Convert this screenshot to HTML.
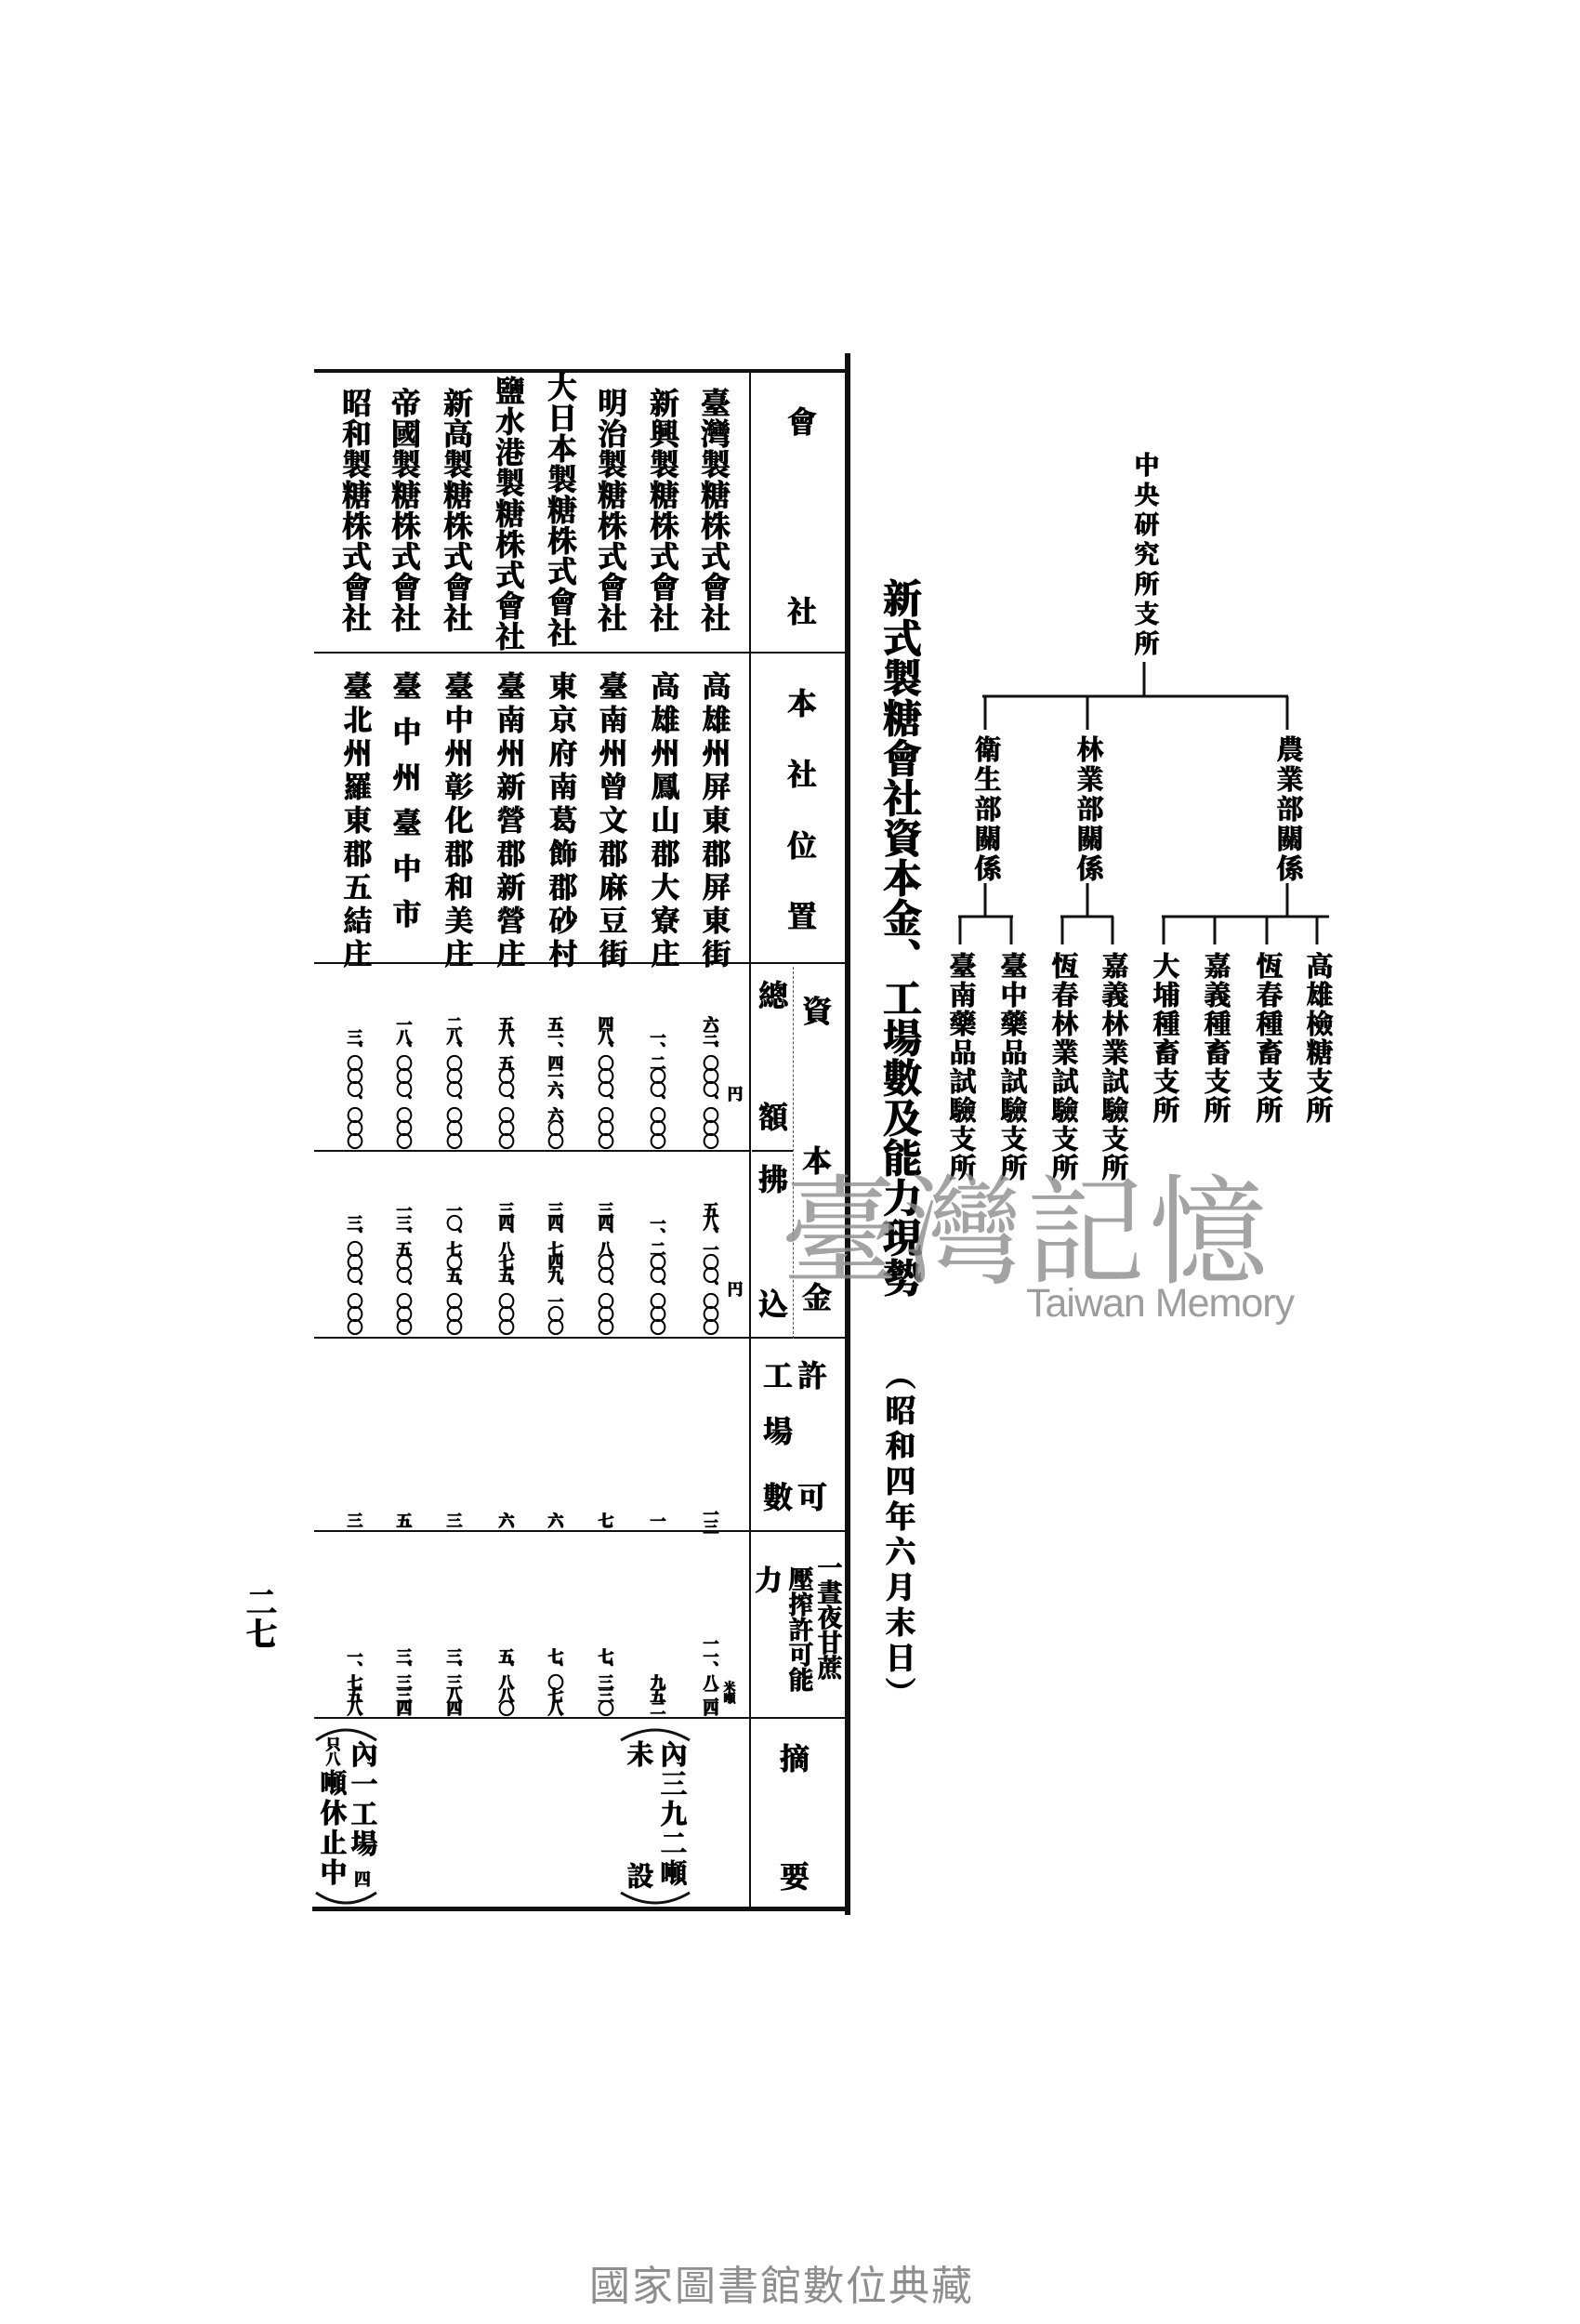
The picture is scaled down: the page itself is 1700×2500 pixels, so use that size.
<!DOCTYPE html>
<html><head><meta charset="utf-8">
<style>
html,body{margin:0;padding:0;background:#fff;}
body{width:1700px;height:2500px;position:relative;overflow:hidden;}
.v{position:absolute;writing-mode:vertical-rl;text-orientation:upright;white-space:nowrap;
font-family:"Liberation Serif","Noto Serif CJK SC","Noto Serif CJK TC",serif;font-weight:700;color:#000;transform:translateX(-50%);line-height:1;-webkit-text-stroke:0.9px #000;}
.b{position:absolute;transform:translate(-50%,-100%);}
.c{position:absolute;transform:translate(-50%,-50%);}
.h{position:absolute;background:#111;}
.co{font-size:32px;letter-spacing:1px;}
.lo{font-size:31px;letter-spacing:5px;}
.num{font-size:17px;letter-spacing:-3px;font-weight:700;-webkit-text-stroke:1.2px #000;}
.hd{font-size:32px;}
.tr{font-size:29px;letter-spacing:2px;}
</style></head><body>

<!-- table lines -->
<div class="h" style="left:338px;top:397px;width:574px;height:4px"></div>
<div class="h" style="left:338px;top:701px;width:574px;height:2px"></div>
<div class="h" style="left:338px;top:1035px;width:574px;height:2px"></div>
<div class="h" style="left:338px;top:1237px;width:469px;height:2px"></div>
<div class="h" style="left:809px;top:1237px;width:44px;height:2px"></div>
<div class="h" style="left:338px;top:1438px;width:574px;height:2px"></div>
<div class="h" style="left:338px;top:1646px;width:574px;height:2px"></div>
<div class="h" style="left:338px;top:1847px;width:574px;height:2px"></div>
<div class="h" style="left:336px;top:2051px;width:576px;height:5px"></div>
<div class="h" style="left:806px;top:399px;width:2px;height:1655px"></div>
<div class="h" style="left:909px;top:380px;width:6px;height:1680px"></div>
<div style="position:absolute;left:853px;top:1040px;height:400px;border-left:1px dashed #555"></div>

<!-- header -->
<div class="v hd" style="left:861px;top:437px">會</div>
<div class="v hd" style="left:861px;top:641px">社</div>
<div class="v hd" style="left:861px;top:740px">本</div>
<div class="v hd" style="left:861px;top:816px">社</div>
<div class="v hd" style="left:861px;top:893px">位</div>
<div class="v hd" style="left:861px;top:969px">置</div>
<div class="v hd" style="left:877px;top:1071px">資</div>
<div class="v hd" style="left:877px;top:1232px">本</div>
<div class="v hd" style="left:877px;top:1379px">金</div>
<div class="v hd" style="left:830px;top:1054px">總</div>
<div class="v hd" style="left:830px;top:1185px">額</div>
<div class="v hd" style="left:830px;top:1252px">拂</div>
<div class="v hd" style="left:830px;top:1386px">込</div>
<div class="v hd" style="left:872px;top:1463px">許</div>
<div class="v hd" style="left:835px;top:1463px">工</div>
<div class="v hd" style="left:835px;top:1523px">場</div>
<div class="v hd" style="left:835px;top:1594px">數</div>
<div class="v hd" style="left:872px;top:1594px">可</div>
<div class="v" style="left:890px;top:1672px;font-size:27px">一晝夜甘蔗</div>
<div class="v" style="left:859px;top:1685px;font-size:27px">壓搾許可能</div>
<div class="v" style="left:823px;top:1684px;font-size:30px">力</div>
<div class="v hd" style="left:853px;top:1875px">摘</div>
<div class="v hd" style="left:853px;top:2002px">要</div>

<!-- companies -->
<div class="v co" style="left:768px;top:417px">臺灣製糖株式會社</div>
<div class="v co" style="left:713px;top:417px">新興製糖株式會社</div>
<div class="v co" style="left:657px;top:417px">明治製糖株式會社</div>
<div class="v co" style="left:603px;top:400px">大日本製糖株式會社</div>
<div class="v co" style="left:547px;top:404px">鹽水港製糖株式會社</div>
<div class="v co" style="left:491px;top:417px">新高製糖株式會社</div>
<div class="v co" style="left:435px;top:417px">帝國製糖株式會社</div>
<div class="v co" style="left:382px;top:417px">昭和製糖株式會社</div>

<!-- locations -->
<div class="v lo" style="left:768px;top:722px">高雄州屏東郡屏東街</div>
<div class="v lo" style="left:713px;top:722px">高雄州鳳山郡大寮庄</div>
<div class="v lo" style="left:657px;top:722px">臺南州曾文郡麻豆街</div>
<div class="v lo" style="left:603px;top:722px">東京府南葛飾郡砂村</div>
<div class="v lo" style="left:547px;top:722px">臺南州新營郡新營庄</div>
<div class="v lo" style="left:491px;top:722px">臺中州彰化郡和美庄</div>
<div class="v lo" style="left:435px;top:722px;letter-spacing:18px">臺中州臺中市</div>
<div class="v lo" style="left:382px;top:722px">臺北州羅東郡五結庄</div>

<!-- capital total -->
<div class="v" style="left:789px;top:1168px;font-size:17px">円</div>
<div class="v num b" style="left:763px;top:1233px">六三、〇〇〇、〇〇〇</div>
<div class="v num b" style="left:706px;top:1233px">一、二〇〇、〇〇〇</div>
<div class="v num b" style="left:650px;top:1233px">四八、〇〇〇、〇〇〇</div>
<div class="v num b" style="left:596px;top:1233px">五一、四一六、六〇〇</div>
<div class="v num b" style="left:543px;top:1233px">五八、五〇〇、〇〇〇</div>
<div class="v num b" style="left:487px;top:1233px">二八、〇〇〇、〇〇〇</div>
<div class="v num b" style="left:433px;top:1233px">一八、〇〇〇、〇〇〇</div>
<div class="v num b" style="left:380px;top:1233px">三、〇〇〇、〇〇〇</div>
<!-- paid -->
<div class="v" style="left:789px;top:1378px;font-size:17px">円</div>
<div class="v num b" style="left:763px;top:1433px">五八、一〇〇、〇〇〇</div>
<div class="v num b" style="left:706px;top:1433px">一、二〇〇、〇〇〇</div>
<div class="v num b" style="left:650px;top:1433px">三四、八〇〇、〇〇〇</div>
<div class="v num b" style="left:596px;top:1433px">三四、七四九、一〇〇</div>
<div class="v num b" style="left:543px;top:1433px">三四、八七五、〇〇〇</div>
<div class="v num b" style="left:487px;top:1433px">一〇、七〇五、〇〇〇</div>
<div class="v num b" style="left:433px;top:1433px">一三、五〇〇、〇〇〇</div>
<div class="v num b" style="left:380px;top:1433px">三、〇〇〇、〇〇〇</div>
<!-- factories -->
<div class="v num c" style="left:763px;top:1634px">一三</div>
<div class="v num c" style="left:706px;top:1634px">一</div>
<div class="v num c" style="left:650px;top:1634px">七</div>
<div class="v num c" style="left:596px;top:1634px">六</div>
<div class="v num c" style="left:543px;top:1634px">六</div>
<div class="v num c" style="left:487px;top:1634px">三</div>
<div class="v num c" style="left:433px;top:1634px">五</div>
<div class="v num c" style="left:380px;top:1634px">三</div>
<!-- capacity -->
<div class="v" style="left:784px;top:1808px;font-size:13px;letter-spacing:-1px">米噸</div>
<div class="v num b" style="left:763px;top:1843px">一一、八二四</div>
<div class="v num b" style="left:706px;top:1843px">九五二</div>
<div class="v num b" style="left:650px;top:1843px">七、三三〇</div>
<div class="v num b" style="left:596px;top:1843px">七、〇七八</div>
<div class="v num b" style="left:543px;top:1843px">五、八八〇</div>
<div class="v num b" style="left:487px;top:1843px">三、三八四</div>
<div class="v num b" style="left:433px;top:1843px">三、三三四</div>
<div class="v num b" style="left:380px;top:1843px">一、七五八</div>

<!-- remarks + tree lines -->
<svg style="position:absolute;left:0;top:0" width="1700" height="2500">
<path d="M668 1872 Q705 1850 742 1872" fill="none" stroke="#111" stroke-width="3"/>
<path d="M668 2036 Q705 2058 742 2036" fill="none" stroke="#111" stroke-width="3"/>
<path d="M340 1872 Q372 1850 405 1872" fill="none" stroke="#111" stroke-width="3"/>
<path d="M340 2036 Q372 2058 405 2036" fill="none" stroke="#111" stroke-width="3"/>
<g stroke="#111" stroke-width="3" fill="none">
<line x1="1231" y1="712" x2="1231" y2="749"/>
<line x1="1057" y1="749" x2="1386" y2="749"/>
<line x1="1060" y1="749" x2="1060" y2="785"/>
<line x1="1170" y1="749" x2="1170" y2="785"/>
<line x1="1385" y1="749" x2="1385" y2="785"/>
<line x1="1060" y1="950" x2="1060" y2="986"/>
<line x1="1170" y1="950" x2="1170" y2="986"/>
<line x1="1385" y1="950" x2="1385" y2="986"/>
<line x1="1031" y1="986" x2="1090" y2="986"/>
<line x1="1141" y1="986" x2="1198" y2="986"/>
<line x1="1250" y1="986" x2="1430" y2="986"/>
<line x1="1033" y1="986" x2="1033" y2="1016"/>
<line x1="1088" y1="986" x2="1088" y2="1016"/>
<line x1="1143" y1="986" x2="1143" y2="1016"/>
<line x1="1197" y1="986" x2="1197" y2="1016"/>
<line x1="1252" y1="986" x2="1252" y2="1016"/>
<line x1="1307" y1="986" x2="1307" y2="1016"/>
<line x1="1363" y1="986" x2="1363" y2="1016"/>
<line x1="1417" y1="986" x2="1417" y2="1016"/>
</g>
</svg>
<div class="v" style="left:722px;top:1872px;font-size:29px;letter-spacing:3px">內三九二噸</div>
<div class="v" style="left:686px;top:1872px;font-size:29px">未</div>
<div class="v" style="left:686px;top:2003px;font-size:29px">設</div>
<div class="v" style="left:389px;top:1872px;font-size:29px;letter-spacing:3px">內一工場</div>
<div class="v" style="left:389px;top:2012px;font-size:18px">四</div>
<div class="v" style="left:356px;top:1868px;font-size:16px">只八</div>
<div class="v" style="left:356px;top:1903px;font-size:29px;letter-spacing:3px">噸休止中</div>

<!-- title -->
<div class="v" style="left:967px;top:622px;font-size:42px;letter-spacing:1px;-webkit-text-stroke:1.2px #000">新式製糖會社資本金、工場數及能力現勢</div>
<div class="v" style="left:965px;top:1462px;font-size:33px;letter-spacing:5px">（昭和四年六月末日）</div>

<!-- tree -->
<div class="v" style="left:1231px;top:486px;font-size:27px;letter-spacing:5px">中央研究所支所</div>
<div class="v tr" style="left:1060px;top:791px;letter-spacing:3px">衛生部關係</div>
<div class="v tr" style="left:1170px;top:791px;letter-spacing:3px">林業部關係</div>
<div class="v tr" style="left:1385px;top:791px;letter-spacing:3px">農業部關係</div>
<div class="v tr" style="left:1033px;top:1024px">臺南藥品試驗支所</div>
<div class="v tr" style="left:1088px;top:1024px">臺中藥品試驗支所</div>
<div class="v tr" style="left:1143px;top:1024px">恆春林業試驗支所</div>
<div class="v tr" style="left:1197px;top:1024px">嘉義林業試驗支所</div>
<div class="v tr" style="left:1252px;top:1024px">大埔種畜支所</div>
<div class="v tr" style="left:1307px;top:1024px">嘉義種畜支所</div>
<div class="v tr" style="left:1363px;top:1024px">恆春種畜支所</div>
<div class="v tr" style="left:1417px;top:1024px">高雄檢糖支所</div>

<!-- watermark -->
<div style="position:absolute;left:840px;top:1240px;font-family:'Noto Serif CJK SC','WenQuanYi Zen Hei',serif;font-size:128px;line-height:150px;color:rgba(140,140,140,0.8);letter-spacing:4px;white-space:nowrap">臺灣記憶</div>
<div style="position:absolute;left:1104px;top:1380px;font-family:'Liberation Sans',sans-serif;font-size:43px;line-height:44px;color:rgba(140,140,140,0.85);white-space:nowrap;letter-spacing:-1px">Taiwan Memory</div>

<!-- page number -->
<div class="v" style="left:277px;top:1706px;font-size:34px;letter-spacing:0">二七</div>

<!-- footer -->
<div style="position:absolute;left:634px;top:2434px;font-family:'Liberation Sans','Noto Sans CJK TC',sans-serif;font-size:44px;line-height:52px;color:#8e8e8e;letter-spacing:2px;white-space:nowrap">國家圖書館數位典藏</div>
</body></html>
